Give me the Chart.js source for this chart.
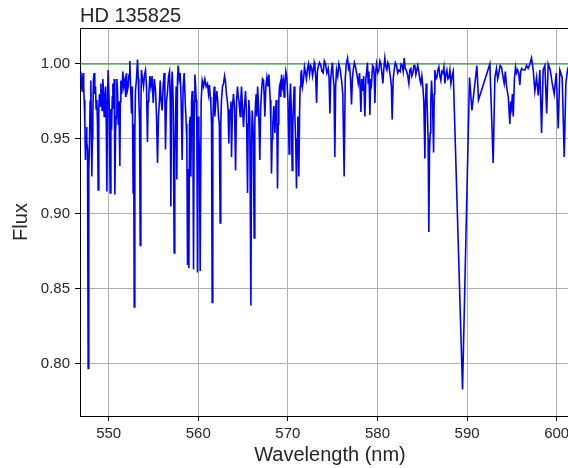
<!DOCTYPE html>
<html>
<head>
<meta charset="utf-8">
<script src="https://cdn.jsdelivr.net/npm/chart.js@4/dist/chart.umd.min.js"></script>
<style>
html,body{margin:0;padding:0;background:#fff;overflow:hidden;}
#wrap{width:568px;height:468px;overflow:hidden;position:relative;}
canvas{display:block;}
</style>
</head>
<body>
<div id="wrap"><canvas id="c" width="580" height="468"></canvas></div>
<script>
const titleText = "HD 135825";
const xLabel = "Wavelength (nm)";
const yLabel = "Flux";

const wavelength = [
546.89,546.96,547.04,547.10,547.15,547.21,547.27,547.34,547.41,547.47,
547.53,547.58,547.64,547.71,547.78,547.86,547.93,548.01,548.12,548.18,
548.23,548.30,548.38,548.45,548.53,548.60,548.68,548.75,548.83,548.90,
548.98,549.05,549.13,549.20,549.27,549.35,549.42,549.50,549.57,549.66,
549.73,549.80,549.87,549.94,550.05,550.17,550.25,550.32,550.40,550.47,
550.55,550.62,550.69,550.77,550.84,550.92,550.99,551.06,551.14,551.25,
551.30,551.36,551.46,551.58,551.68,551.80,551.90,551.99,552.08,552.18,
552.27,552.36,552.45,552.55,552.64,552.73,552.79,552.85,552.92,552.99,
553.10,553.22,553.30,553.37,553.45,553.52,553.59,553.66,553.78,553.89,
554.00,554.11,554.22,554.33,554.40,554.48,554.60,554.71,554.84,554.97,
555.10,555.23,555.34,555.45,555.56,555.67,
555.75,555.86,555.97,556.08,556.19,556.27,556.34,556.45,556.57,556.68,
556.79,556.87,556.94,557.02,557.09,557.20,557.31,557.38,557.46,557.53,
557.61,557.68,557.76,557.87,557.98,558.09,558.20,558.31,558.43,558.54,
558.65,558.72,558.80,558.87,558.95,559.02,559.10,559.17,559.25,559.32,
559.40,559.47,559.55,559.62,559.70,559.77,559.84,559.91,559.98,560.06,
560.13,560.21,560.32,560.44,560.58,560.73,560.88,561.03,561.14,561.25,
561.33,561.40,561.48,561.55,561.62,561.70,561.78,561.85,561.96,562.07,
562.17,562.26,562.35,562.44,562.51,562.59,562.70,562.82,562.93,563.04,
563.14,563.23,563.32,563.41,563.48,563.56,563.64,563.71,563.82,563.93,
564.05,564.16,564.27,564.38,564.46,
564.55,564.61,564.68,564.76,564.83,564.94,565.05,565.16,565.27,565.38,
565.50,565.57,565.64,565.75,565.87,565.95,566.02,566.13,566.24,566.31,
566.39,566.46,566.54,566.62,566.69,566.78,566.87,566.96,567.06,567.17,
567.28,567.36,567.43,567.54,567.65,567.76,567.88,567.95,568.03,568.10,
568.17,568.25,568.32,568.43,568.55,568.62,568.70,568.77,568.84,568.92,
568.99,569.06,569.14,569.21,569.29,569.40,569.51,569.58,569.66,569.77,
569.88,570.01,570.14,570.21,570.29,570.38,570.48,570.55,570.63,570.70,
570.78,570.87,570.96,571.03,571.11,571.16,571.22,571.30,571.37,571.45,
571.52,571.63,571.74,571.85,571.97,572.08,572.19,572.30,572.42,572.53,
572.64,572.75,572.86,572.94,573.01,573.10,573.20,573.29,573.38,
573.53,573.68,573.81,573.94,574.07,574.20,574.35,574.50,574.60,574.69,
574.78,574.87,574.97,575.06,575.15,575.24,575.33,575.43,575.56,575.69,
575.84,575.99,576.13,576.28,576.40,576.51,576.66,576.77,576.88,576.99,
577.10,577.20,577.29,577.42,577.55,577.70,577.85,578.00,578.15,578.24,
578.33,578.46,578.59,578.70,578.81,578.88,578.96,579.05,579.15,579.24,
579.33,579.45,579.56,579.63,579.71,579.80,579.89,580.02,580.15,580.27,
580.38,580.49,580.60,580.71,580.82,580.94,581.05,581.16,581.27,581.36,
581.45,581.55,581.64,581.75,581.86,581.99,582.12,582.26,582.39,
582.53,582.64,582.76,582.87,582.98,583.09,583.20,583.35,583.50,583.61,
583.72,583.83,583.95,584.06,584.17,584.28,584.39,584.50,584.61,584.72,
584.84,584.95,585.06,585.17,585.29,585.36,585.44,585.51,585.58,585.65,
585.73,585.80,585.88,585.95,586.03,586.14,586.26,586.33,586.40,586.52,
586.63,586.74,586.85,586.96,587.07,587.18,587.30,587.41,587.52,587.63,
587.74,587.86,587.97,588.08,588.19,588.32,588.45,589.49,590.27,590.54,
591.09,591.27,592.54,592.91,593.10,593.28,593.41,593.54,593.69,593.84,
593.99,594.14,594.27,594.40,594.60,594.77,594.86,594.96,595.05,595.15,
595.28,595.41,595.52,595.63,595.76,595.89,595.99,596.08,596.27,596.45,
596.63,596.82,597.01,597.19,597.38,597.56,597.75,597.94,598.12,598.31,
598.49,598.68,598.88,599.05,599.28,599.50,599.72,599.95,600.17,600.35,
600.61,600.84,601.02,601.21,601.50
];

const flux = [
0.995,0.988,0.982,0.990,0.994,0.985,0.976,0.962,0.936,0.950,
0.958,0.948,0.943,0.797,0.930,0.947,0.975,0.989,0.925,0.950,
0.965,0.990,0.994,0.980,0.985,0.970,0.976,0.960,0.916,0.970,
0.980,0.972,0.987,0.978,0.969,0.990,0.982,0.965,0.976,0.985,
0.960,0.915,0.975,0.996,0.975,0.914,0.970,0.956,0.978,0.987,
0.970,0.990,0.913,0.955,0.965,0.990,0.982,0.960,0.975,0.932,
0.975,0.989,0.980,0.995,0.985,0.989,0.978,0.994,0.982,0.985,
0.993,1.002,0.985,0.967,0.985,0.914,0.960,0.838,0.955,0.982,
0.990,1.003,0.990,0.976,0.960,0.879,0.970,0.996,0.990,0.985,
0.993,0.996,0.985,0.948,0.975,0.980,0.992,0.985,0.992,0.974,
0.990,0.982,0.965,0.934,0.965,0.976,
0.989,0.975,0.969,0.985,0.994,0.980,0.943,0.975,0.982,0.992,
0.995,0.975,0.905,0.985,0.995,0.975,0.874,0.940,0.965,0.985,
0.923,0.990,0.999,0.990,0.994,0.975,0.936,0.985,0.994,0.975,
0.960,0.950,0.866,0.930,0.864,0.960,0.965,0.925,0.975,0.982,
0.950,0.863,0.975,0.993,0.985,0.976,0.960,0.861,0.965,0.954,
0.940,0.862,0.975,0.989,0.985,0.990,0.985,0.987,0.980,0.986,
0.978,0.974,0.960,0.841,0.960,0.976,0.985,0.965,0.975,0.982,
0.975,0.965,0.960,0.894,0.960,0.976,0.985,0.987,0.992,0.988,
0.980,0.976,0.970,0.947,0.965,0.969,0.975,0.938,0.972,0.980,
0.970,0.929,0.975,0.985,0.978,
0.975,0.970,0.965,0.978,0.985,0.970,0.958,0.972,0.982,0.968,
0.914,0.960,0.976,0.965,0.839,0.950,0.969,0.955,0.884,0.960,
0.974,0.980,0.965,0.985,0.976,0.960,0.936,0.970,0.982,0.990,
0.989,0.978,0.965,0.985,0.991,0.985,0.993,0.985,0.976,0.960,
0.927,0.950,0.960,0.972,0.954,0.968,0.976,0.960,0.917,0.960,
0.976,0.985,0.987,0.978,0.993,0.985,0.989,0.978,0.985,0.995,
0.991,0.975,0.940,0.975,0.987,0.970,0.929,0.960,0.974,0.985,
0.965,0.950,0.917,0.950,0.965,0.950,0.925,0.965,0.985,0.993,
0.996,0.985,0.989,0.998,0.994,0.990,0.997,1.000,0.993,0.999,
0.998,0.992,0.996,1.001,0.999,0.992,0.974,0.995,0.998,
1.001,0.999,0.995,0.994,1.002,1.000,0.994,0.997,0.990,0.967,
0.990,0.996,1.001,0.991,0.985,0.938,0.985,0.996,0.992,1.000,
0.996,0.989,0.980,0.925,0.990,1.000,1.004,0.997,0.999,0.990,
0.973,0.990,0.996,1.001,0.998,0.993,0.987,0.994,0.968,0.990,
0.982,0.992,0.965,0.990,0.996,1.001,0.987,0.995,0.966,0.990,
0.987,0.999,0.998,0.992,0.974,0.995,1.000,0.994,0.996,1.002,
1.000,0.994,0.987,0.997,1.004,0.998,0.996,1.001,0.999,0.995,
0.991,0.985,0.963,0.990,0.996,1.001,0.999,0.994,0.996,
0.995,1.000,0.999,0.995,1.004,0.997,0.996,0.993,0.987,0.996,
0.997,0.992,0.994,0.999,0.999,0.993,0.996,0.999,0.995,0.990,
0.987,0.992,0.985,0.975,0.937,0.975,0.987,0.978,0.965,0.950,
0.888,0.940,0.954,0.975,0.989,0.975,0.941,0.980,0.996,0.990,
0.991,0.996,0.998,0.992,0.989,0.995,0.994,0.998,0.987,0.993,
0.996,0.990,0.991,0.996,0.987,0.992,0.995,0.783,0.991,0.969,
0.999,0.976,1.000,0.934,0.991,0.997,0.990,0.994,0.999,0.998,
0.992,0.987,0.995,0.985,0.978,0.960,0.975,0.971,0.980,0.965,
0.990,0.998,0.994,0.996,0.994,0.986,0.995,0.997,0.996,0.996,
0.999,0.997,1.000,1.004,0.996,0.982,0.991,0.979,0.996,0.954,
0.996,0.999,0.967,1.000,0.996,0.987,0.980,0.994,0.957,0.996,
0.991,0.938,0.987,0.996,0.990
];

const continuumWavelength = [546.8, 602.6];
const continuumFlux = [1.0, 1.0];

const xTicks = [550, 560, 570, 580, 590, 600];
const yTicks = [0.80, 0.85, 0.90, 0.95, 1.00];
const xRange = [546.8, 602.6];
const yRange = [0.7653, 1.024];

const FONT = '"Liberation Sans", Arial, Helvetica, sans-serif';
const TEXT = '#262626';

const spectrum = wavelength.map((w, i) => ({x: w, y: flux[i]}));
const continuum = continuumWavelength.map((w, i) => ({x: w, y: continuumFlux[i]}));

const framePlugin = {
  id: 'frame',
  afterDraw(chart) {
    const {ctx, chartArea: a} = chart;
    ctx.save();
    ctx.strokeStyle = '#000';
    ctx.lineWidth = 1;
    ctx.beginPath();
    ctx.moveTo(a.left, a.top + 0.5);
    ctx.lineTo(a.right, a.top + 0.5);
    ctx.stroke();
    ctx.fillStyle = TEXT;
    ctx.font = '20px ' + FONT;
    ctx.textAlign = 'left';
    ctx.textBaseline = 'alphabetic';
    ctx.fillText(titleText, a.left, a.top - 6);
    ctx.restore();
  }
};

new Chart(document.getElementById('c'), {
  type: 'line',
  data: {
    datasets: [
      {data: spectrum, borderColor: '#0000ff', borderWidth: 1.6, pointRadius: 0, tension: 0, fill: false},
      {data: continuum, borderColor: '#2a8a2a', borderWidth: 1.2, pointRadius: 0, tension: 0, fill: false}
    ]
  },
  options: {
    responsive: false,
    animation: false,
    events: [],
    layout: {padding: {top: 28, left: 0, right: 0, bottom: 0}},
    plugins: {legend: {display: false}, tooltip: {enabled: false}, title: {display: false}},
    scales: {
      x: {
        type: 'linear',
        min: xRange[0], max: xRange[1],
        afterBuildTicks: s => { s.ticks = xTicks.map(v => ({value: v})); },
        afterFit: s => { s.height = 52; },
        ticks: {font: {family: FONT, size: 15}, color: TEXT, padding: 4, maxRotation: 0, autoSkip: false, callback: v => String(v)},
        grid: {color: '#b0b0b0', lineWidth: 1, tickColor: '#000', tickLength: 5, drawTicks: true},
        border: {display: true, color: '#000', width: 1},
        title: {display: true, text: xLabel, font: {family: FONT, size: 20}, color: TEXT, padding: {top: 0, bottom: 1}}
      },
      y: {
        type: 'linear',
        min: yRange[0], max: yRange[1],
        afterBuildTicks: s => { s.ticks = yTicks.map(v => ({value: v})); },
        afterFit: s => { s.width = 80; },
        ticks: {font: {family: FONT, size: 15}, color: TEXT, padding: 5, autoSkip: false, callback: v => Number(v).toFixed(2)},
        grid: {color: '#b0b0b0', lineWidth: 1, tickColor: '#000', tickLength: 5, drawTicks: true},
        border: {display: true, color: '#000', width: 1},
        title: {display: true, text: yLabel, font: {family: FONT, size: 20}, color: TEXT, padding: {top: 9, bottom: 0}}
      }
    }
  },
  plugins: [framePlugin]
});
</script>
</body>
</html>
